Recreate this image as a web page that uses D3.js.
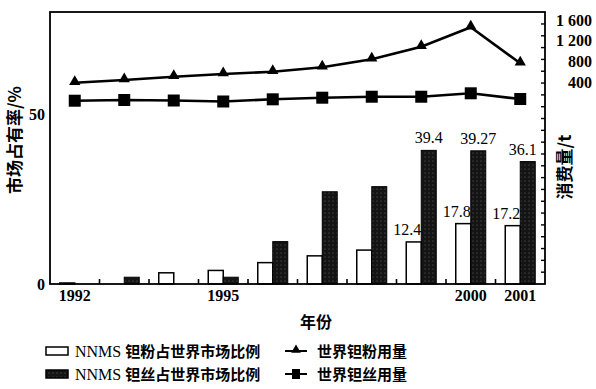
<!DOCTYPE html>
<html><head><meta charset="utf-8">
<script src="https://cdn.jsdelivr.net/npm/d3@7"></script>
<style>body{margin:0;background:#fff}svg{display:block}</style>
</head><body>
<script>
// ---- data ----
const years = [1992,1993,1994,1995,1996,1997,1998,1999,2000,2001];
const powderShare = [0.3, 0, 3.3, 4.0, 6.3, 8.3, 10.0, 12.4, 17.8, 17.2];   // NNMS 钽粉占世界市场比例 %
const wireShare   = [0, 2.0, 0, 2.0, 12.5, 27.2, 28.7, 39.4, 39.27, 36.1];  // NNMS 钽丝占世界市场比例 %
const powderUse   = [391, 443, 507, 559, 603, 688, 842, 1085, 1459, 765];   // 世界钽粉用量 t
const wireUse     = [44, 58, 48, 29, 71, 102, 121, 121, 187, 77];           // 世界钽丝用量 t
const labeledYears = [1999, 2000, 2001];
const xTickYears = [1992, 1995, 2000, 2001];
const leftTicks = [0, 50];
const rightTicks = [400, 800, 1200, 1600];

const W = 596, H = 389;
const L = 50, R = 545, T = 12, B = 284;
const svg = d3.select("body").append("svg").attr("width", W).attr("height", H)
  .style("background", "#fff");

const defs = svg.append("defs");
const pat = defs.append("pattern").attr("id","dots").attr("patternUnits","userSpaceOnUse")
  .attr("width",4).attr("height",4);
pat.append("rect").attr("width",4).attr("height",4).attr("fill","#141414");
pat.append("circle").attr("cx",1).attr("cy",1).attr("r",0.6).attr("fill","#6a6a6a");

const x = d3.scaleBand().domain(years).range([L, R]).paddingInner(0).paddingOuter(0);
const xs = d3.scaleBand().domain(["p","w"]).range([0, x.bandwidth()]).paddingInner(0).paddingOuter(0.65);
const y = d3.scaleLinear().domain([0, 80.2]).range([B, T]);
const yR = d3.scaleLinear().domain([0, 1600]).range([103, 20]);
const yMinor = d3.scaleLinear().domain([0, 22]).range([B, B - 22*11.82]);

const serif = "'Liberation Serif','DejaVu Serif',serif";
const cjk = "'Noto Sans CJK SC','Noto Sans',sans-serif";

// bars
const rows = years.map((yr,i)=>({yr, p: powderShare[i], w: wireShare[i]}));
const g = svg.append("g");
g.selectAll(".bp").data(rows).join("rect")
  .attr("x", d => x(d.yr) + xs("p")).attr("width", xs.bandwidth())
  .attr("y", d => y(d.p)).attr("height", d => y(0) - y(d.p))
  .attr("fill", "#fff").attr("stroke", "#000").attr("stroke-width", 1.5);
g.selectAll(".bw").data(rows.filter(d=>d.w>0)).join("rect")
  .attr("x", d => x(d.yr) + xs("w")).attr("width", xs.bandwidth())
  .attr("y", d => y(d.w)).attr("height", d => y(0) - y(d.w))
  .attr("fill", "url(#dots)").attr("stroke", "#000").attr("stroke-width", 1);

// value labels
const lab = rows.filter(d => labeledYears.includes(d.yr));
g.selectAll(".lp").data(lab).join("text")
  .attr("x", d => x(d.yr) + xs("p") + xs.bandwidth())
  .attr("y", d => y(d.p) - 7).attr("text-anchor","end")
  .attr("font-family", serif).attr("font-size", 16).text(d => d.p);
g.selectAll(".lw").data(lab).join("text")
  .attr("x", d => x(d.yr) + xs("w") + xs.bandwidth()/2 - (d.yr===2001 ? 5 : 0))
  .attr("y", d => y(d.w) - 7).attr("text-anchor","middle")
  .attr("font-family", serif).attr("font-size", 16).text(d => d.w);

// lines
const cx = yr => x(yr) + x.bandwidth()/2;
const line = d3.line().x((d,i)=>cx(years[i])).y(d=>yR(d));
svg.append("path").attr("d", line(powderUse)).attr("fill","none").attr("stroke","#000").attr("stroke-width",2.6);
svg.append("path").attr("d", line(wireUse)).attr("fill","none").attr("stroke","#000").attr("stroke-width",2.6);
const tri = d3.symbol().type(d3.symbolTriangle).size(55);
svg.selectAll(".tri").data(powderUse).join("path")
  .attr("d", tri).attr("transform", (d,i)=>`translate(${cx(years[i])},${yR(d)-1})`).attr("fill","#000");
svg.selectAll(".sq").data(wireUse).join("rect")
  .attr("x",(d,i)=>cx(years[i])-6).attr("y",d=>yR(d)-6).attr("width",12).attr("height",12).attr("fill","#000");

// frame
svg.append("rect").attr("x",L).attr("y",T).attr("width",R-L).attr("height",B-T)
  .attr("fill","none").attr("stroke","#000").attr("stroke-width",1.8);

// x boundary ticks
svg.selectAll(".xt").data(years.slice(1)).join("line")
  .attr("x1", d=>x(d)).attr("x2", d=>x(d)).attr("y1", B).attr("y2", B-5)
  .attr("stroke","#000").attr("stroke-width",1.6);

// x axis labels
const xAxis = d3.axisBottom(x).tickValues(xTickYears).tickSize(0).tickPadding(6);
const gx = svg.append("g").attr("transform",`translate(0,${B})`).call(xAxis);
gx.select(".domain").remove();
gx.selectAll("text").attr("font-family", serif).attr("font-weight","bold").attr("font-size",16).attr("fill","#000");

// left axis
const gy = svg.append("g").attr("transform",`translate(${L},0)`)
  .call(d3.axisLeft(y).tickValues(leftTicks).tickSize(0).tickPadding(5));
gy.select(".domain").remove();
gy.selectAll("text").attr("font-family", serif).attr("font-weight","bold").attr("font-size",16).attr("fill","#000");

// right axis
const fmt = d3.formatLocale({decimal:".", thousands:" ", grouping:[3], currency:["",""]}).format(",");
const gr = svg.append("g").attr("transform",`translate(${R},0)`)
  .call(d3.axisRight(yR).tickValues(rightTicks).tickSize(0).tickFormat(fmt));
gr.select(".domain").remove();
gr.selectAll("text").attr("x", 47).attr("text-anchor","end")
  .attr("font-family", serif).attr("font-weight","bold").attr("font-size",16).attr("fill","#000");
// right minor ticks (inward)
svg.selectAll(".rt").data(d3.range(1,23)).join("line")
  .attr("x1", R).attr("x2", R-4).attr("y1", d=>yMinor(d)).attr("y2", d=>yMinor(d))
  .attr("stroke","#000").attr("stroke-width",1.4);

// titles
svg.append("text").attr("transform","translate(21,140) rotate(-90)").attr("text-anchor","middle")
  .attr("font-family", cjk).attr("font-weight","bold").attr("font-size",17).text("市场占有率/%");
svg.append("text").attr("transform","translate(571,167) rotate(-90)").attr("text-anchor","middle")
  .attr("font-family", cjk).attr("font-weight","bold").attr("font-size",17).text("消费量/t");
svg.append("text").attr("x",316).attr("y",328).attr("text-anchor","middle")
  .attr("font-family", cjk).attr("font-weight","bold").attr("font-size",16).text("年份");

// legend
const legendBars = [
  {label:"钽粉占世界市场比例", fill:"#fff", y:351},
  {label:"钽丝占世界市场比例", fill:"url(#dots)", y:374}
];
const legendLines = [
  {label:"世界钽粉用量", mark:"tri", y:351},
  {label:"世界钽丝用量", mark:"sq", y:374}
];
legendBars.forEach(d=>{
  svg.append("rect").attr("x",46).attr("y",d.y-4).attr("width",22).attr("height",8)
    .attr("fill",d.fill).attr("stroke","#000").attr("stroke-width",1.5);
  const t = svg.append("text").attr("x",75).attr("y",d.y+5.5).attr("font-size",15);
  t.append("tspan").attr("font-family",serif).attr("font-size",16).text("NNMS ");
  t.append("tspan").attr("font-family",cjk).attr("font-weight","bold").text(d.label);
});
legendLines.forEach(d=>{
  svg.append("line").attr("x1",285).attr("x2",307).attr("y1",d.y).attr("y2",d.y)
    .attr("stroke","#000").attr("stroke-width",2);
  if (d.mark==="tri") svg.append("path").attr("d",d3.symbol().type(d3.symbolTriangle).size(40))
    .attr("transform",`translate(296,${d.y-1})`);
  else svg.append("rect").attr("x",292).attr("y",d.y-5).attr("width",8).attr("height",10);
  svg.append("text").attr("x",317).attr("y",d.y+5.5).attr("font-family",cjk).attr("font-weight","bold")
    .attr("font-size",15).text(d.label);
});
</script>
</body></html>
